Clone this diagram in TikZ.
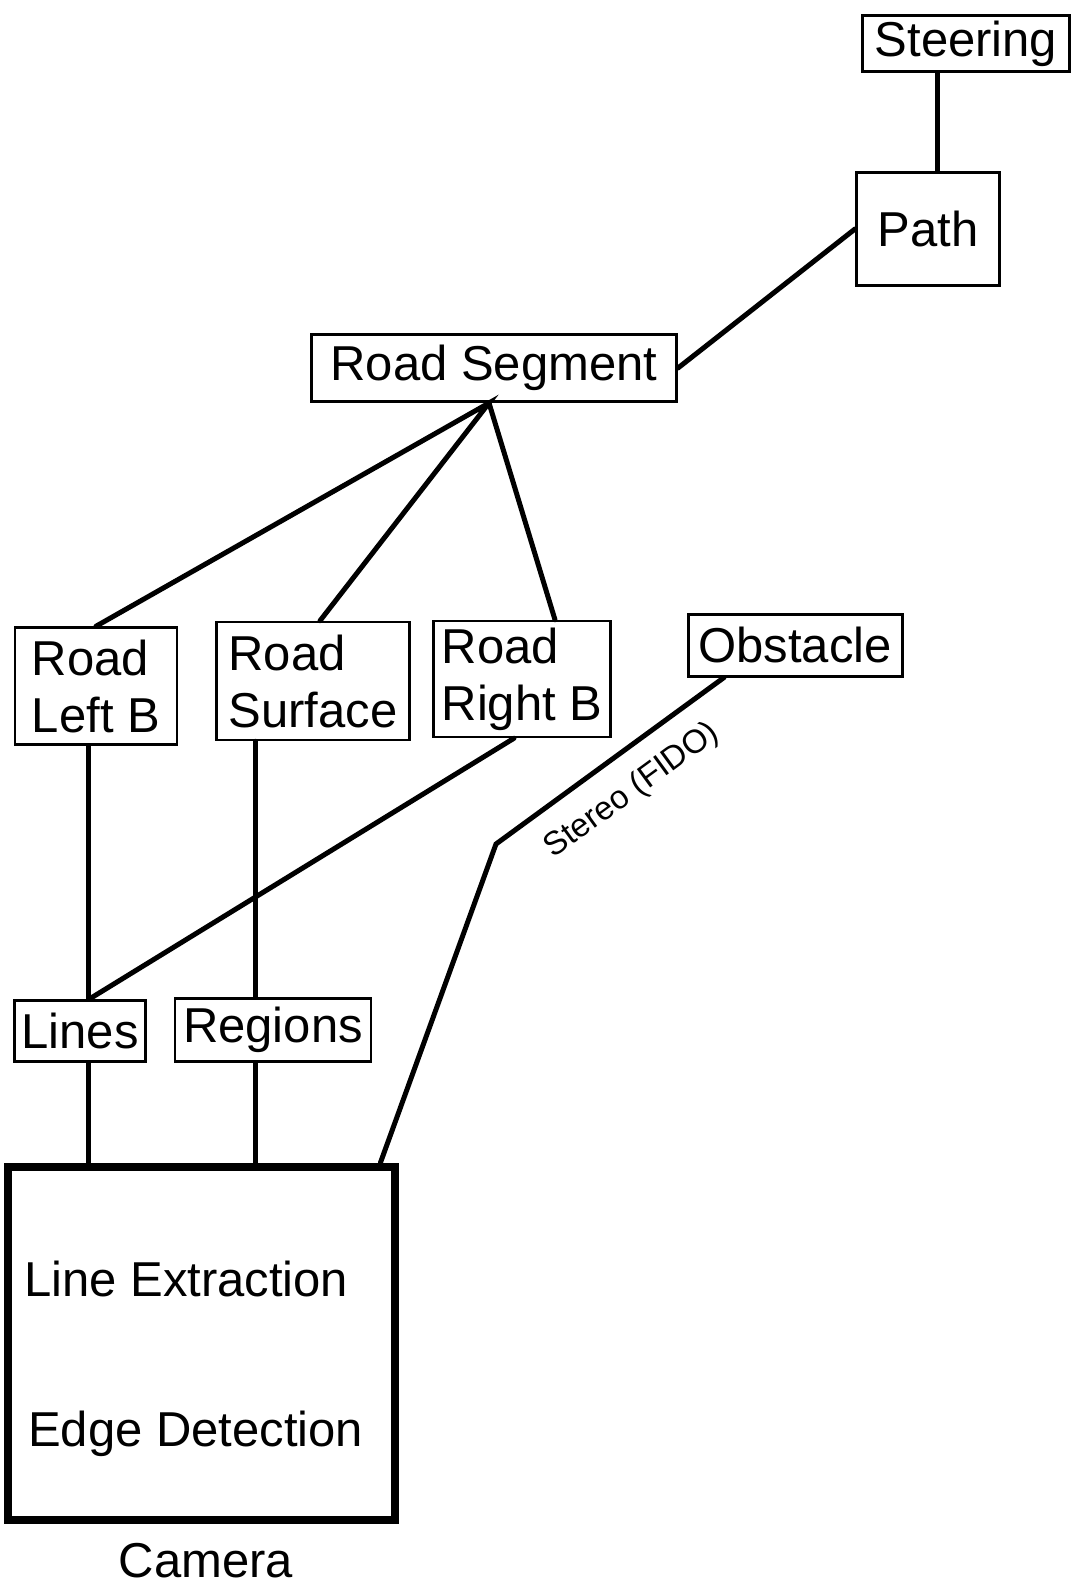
\documentclass[tikz,border=0pt]{standalone}
\usepackage{fontspec}
\setmainfont{Liberation Sans}
\usepackage{tikz}
\usetikzlibrary{positioning, calc}
\tikzstyle{box} = [
    rectangle,
    draw=black,
    line width=3pt,
    inner sep=4pt,
    align=left,
    font=\fontsize{49}{57}\selectfont
]
\tikzstyle{link} = [
    line width=5pt,
    color=black,
    line cap=round
]
\tikzstyle{plain} = [
    inner sep=0pt,
    font=\fontsize{49}{57}\selectfont
]

\begin{document}
\begin{tikzpicture}[x=1pt, y=-1pt]
    \useasboundingbox (0,0) rectangle (1074,1589);
    % Boxes
    \node[box, minimum width=207pt, minimum height=56pt] (steering) at (966,44) {Steering};
    \node[box, minimum width=143pt, minimum height=112pt] (path) at (928,229) {Path};
    \node[box, minimum width=365pt, minimum height=67pt] (roadseg) at (494,368) {Road Segment};
    \node[box, line width=2.5pt, minimum width=162pt, minimum height=117pt] (leftb) at (96,686) {Road\\Left B};
    \node[box, line width=2.5pt, minimum width=193pt, minimum height=118pt] (surface) at (313,681) {Road\\Surface};
    \node[box, line width=2.5pt, minimum width=177pt, minimum height=116pt] (rightb) at (522,679) {Road\\Right B};
    \node[box, minimum width=214pt, minimum height=62pt] (obstacle) at (795,645) {Obstacle};
    \node[box, line width=2.5pt, minimum width=131pt, minimum height=61pt] (lines) at (80,1031) {Lines};
    \node[box, line width=2.5pt, minimum width=196pt, minimum height=63pt] (regions) at (273,1030) {Regions};
    \node[box, line width=8pt, minimum width=387pt, minimum height=353pt] (camera) at (201,1343) {};
    \node[plain, anchor=base west] (extract) at (24,1296) {Line Extraction};
    \node[plain, anchor=base west] (edges) at (28,1446) {Edge Detection};
    \node[plain, anchor=base] (camlabel) at (206,1577) {Camera};
    \coordinate (kink) at (496,844);

    % Links
    \draw[link] ([xshift=-29pt]steering.south) -- ([xshift=-29pt]steering.south |- path.north);
    \draw[link] (path.west) -- (roadseg.east);
    \draw[link] (leftb.north) -- ([xshift=-5pt]roadseg.south) -- ([xshift=7pt]surface.north);
    \draw[link] ([xshift=-5pt]roadseg.south) -- ([xshift=33pt]rightb.north);
    \draw[link] ([xshift=-8pt]leftb.south) -- ([xshift=-8pt]leftb.south |- lines.north);
    \draw[link] ([xshift=-58pt]surface.south) -- ([xshift=-58pt]surface.south |- regions.north);
    \draw[link] ([xshift=-8pt]rightb.south) -- ([xshift=9pt]lines.north);
    \draw[link] ([xshift=8pt]lines.south) -- ([xshift=8pt]lines.south |- camera.north);
    \draw[link] ([xshift=-18pt]regions.south) -- ([xshift=-18pt]regions.south |- camera.north);
    \draw[link] ([xshift=-18pt]camera.north east) -- (kink)
        -- node[pos=0.5, below=16pt, sloped, font=\fontsize{33}{38}\selectfont]{Stereo (FIDO)} ([xshift=-71pt]obstacle.south);
\end{tikzpicture}
\end{document}
